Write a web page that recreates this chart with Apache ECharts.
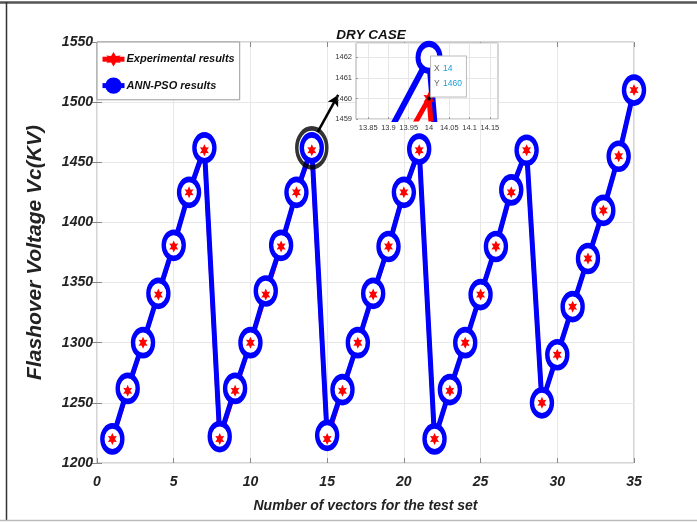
<!DOCTYPE html>
<html>
<head>
<meta charset="utf-8">
<script src="https://cdn.jsdelivr.net/npm/echarts@6/dist/echarts.min.js"></script>
<style>html,body{margin:0;padding:0;background:#fff;}#c{width:697px;height:522px;}</style>
</head>
<body>
<div id="c"></div>
<script>
// ---- data ----
const xs = [1,2,3,4,5,6,7,8,9,10,11,12,13,14,15,16,17,18,19,20,21,22,23,24,25,26,27,28,29,30,31,32,33,34,35];
const experimental = [1220,1260,1300,1340,1380,1425,1460,1220,1260,1300,1340,1380,1425,1460,1220,1260,1300,1340,1380,1425,1460,1220,1260,1300,1340,1380,1425,1460,1250,1290,1330,1370,1410,1455,1510];
const annPso = [1220,1262,1300,1341,1381,1425,1462,1222,1262,1300,1343,1381,1425,1462,1223,1261,1300,1341,1380,1425,1461,1220,1261,1300,1340,1380,1427,1460,1250,1290,1330,1370,1410,1455,1510];
const xTicks = [0,5,10,15,20,25,30,35];
const yTicks = [1200,1250,1300,1350,1400,1450,1500,1550];
const insetXTicks = [13.85,13.9,13.95,14,14.05,14.1,14.15];
const insetYTicks = [1459,1460,1461,1462];
const highlightIndex = 13;

const SANS = "'Liberation Sans',Arial,sans-serif";
const ELLIPSE = 'path://M0,-1A1,1,0,1,1,0,1A1,1,0,1,1,0,-1Z';
const STAR = 'path://M0,-10L3,-4.5L9,-5L5,0L9,5L3,4.5L0,10L-3,4.5L-9,5L-5,0L-9,-5L-3,-4.5Z';

const pairs = arr => arr.map((v, i) => [xs[i], v]);
const expData = pairs(experimental);
const annData = pairs(annPso);
const hl = [xs[highlightIndex], annPso[highlightIndex]];
const hlExp = [xs[highlightIndex], experimental[highlightIndex]];
const plain = v => String(+(+v).toFixed(2));

const chart = echarts.init(document.getElementById('c'), null, {renderer: 'canvas'});
const tickLabel = {fontFamily: SANS, fontStyle: 'italic', fontWeight: 'bold', fontSize: 14, color: '#222', formatter: plain};
const insetLabel = {fontFamily: SANS, fontSize: 7.5, color: '#333', formatter: plain, hideOverlap: false};

chart.setOption({
  animation: false,
  backgroundColor: '#fff',
  title: {
    text: 'DRY CASE', left: 366, top: 23, textAlign: 'center',
    textStyle: {fontFamily: SANS, fontStyle: 'italic', fontWeight: 'bold', fontSize: 13.5, color: '#111'}
  },
  legend: {
    orient: 'vertical', left: 97, top: 42,
    backgroundColor: '#fff', borderColor: '#999', borderWidth: 1,
    padding: [10, 5, 6, 3], itemGap: 11, itemWidth: 22, itemHeight: 18,
    textStyle: {fontFamily: SANS, fontStyle: 'italic', fontWeight: 'bold', fontSize: 11, color: '#111', padding: [0,0,0,-3]},
    data: [
      {name: 'Experimental results', lineStyle: {width: 5, color: '#ff0000'}},
      {name: 'ANN-PSO results', itemStyle: {color: '#0000ff'}, lineStyle: {width: 5, color: '#0000ff'}}
    ],
    z: 10
  },
  grid: [
    {left: 97, top: 42, right: 63, bottom: 59, show: true, borderColor: '#aaa', borderWidth: 1, backgroundColor: '#fff'},
    {left: 356, top: 43, width: 142, height: 76, show: true, borderColor: '#aaa', borderWidth: 1, backgroundColor: '#fff', z: 5}
  ],
  xAxis: [
    {type: 'value', gridIndex: 0, min: 0, max: 35, interval: 5,
     axisLine: {show: false}, axisTick: {show: true, inside: true, length: 5, lineStyle: {color: '#888'}},
     axisLabel: Object.assign({margin: 12}, tickLabel),
     splitLine: {show: true, lineStyle: {color: '#e8e8e8', width: 1}},
     name: 'Number of vectors for the test set', nameLocation: 'middle', nameGap: 36,
     nameTextStyle: {fontFamily: SANS, fontStyle: 'italic', fontWeight: 'bold', fontSize: 14, color: '#222'}},
    {type: 'value', gridIndex: 0, position: 'top', min: 0, max: 35, interval: 5,
     axisLine: {show: false}, axisTick: {show: true, inside: true, length: 5, lineStyle: {color: '#888'}},
     axisLabel: {show: false}, splitLine: {show: false}},
    {type: 'value', gridIndex: 1, min: 13.82, max: 14.17, z: 6,
     axisLine: {show: false},
     axisTick: {show: true, inside: true, length: 2, lineStyle: {color: '#999'}, customValues: insetXTicks},
     axisLabel: Object.assign({margin: 5, customValues: insetXTicks}, insetLabel),
     splitLine: {show: true, lineStyle: {color: '#e6e6e6'}}}
  ],
  yAxis: [
    {type: 'value', gridIndex: 0, min: 1200, max: 1550, interval: 50,
     axisLine: {show: false}, axisTick: {show: true, inside: true, length: 5, lineStyle: {color: '#888'}},
     axisLabel: Object.assign({margin: 4}, tickLabel),
     splitLine: {show: true, lineStyle: {color: '#e8e8e8', width: 1}},
     name: 'Flashover Voltage Vc(KV)', nameLocation: 'middle', nameGap: 51,
     nameTextStyle: {fontFamily: SANS, fontStyle: 'italic', fontWeight: 'bold', fontSize: 21, color: '#222'}},
    {type: 'value', gridIndex: 0, position: 'right', min: 1200, max: 1550, interval: 50,
     axisLine: {show: false}, axisTick: {show: true, inside: true, length: 5, lineStyle: {color: '#888'}},
     axisLabel: {show: false}, splitLine: {show: false}},
    {type: 'value', gridIndex: 1, min: 1459, max: 1462.7, interval: 1, z: 6,
     axisLine: {show: false},
     axisTick: {show: true, inside: true, length: 2, lineStyle: {color: '#999'}},
     axisLabel: Object.assign({margin: 4, showMaxLabel: false}, insetLabel),
     splitLine: {show: true, lineStyle: {color: '#e6e6e6'}}}
  ],
  series: [
    {name: 'Experimental results', type: 'line', xAxisIndex: 0, yAxisIndex: 0, data: expData,
     symbol: STAR, symbolSize: [14, 14], showSymbol: false,
     lineStyle: {color: '#ff0000', width: 4}, itemStyle: {color: '#ff0000'}, z: 2},
    {name: 'ANN-PSO results', type: 'line', xAxisIndex: 0, yAxisIndex: 0, data: annData,
     symbol: ELLIPSE, symbolSize: [20, 26], symbolKeepAspect: false, showAllSymbol: true,
     lineStyle: {color: '#0000ff', width: 5},
     itemStyle: {color: '#ffffff', borderColor: '#0000ff', borderWidth: 5}, z: 3},
    {name: 'Experimental markers', type: 'line', xAxisIndex: 0, yAxisIndex: 0, data: expData,
     symbol: STAR, symbolSize: [9, 12], symbolKeepAspect: false, showAllSymbol: true,
     lineStyle: {opacity: 0, width: 0}, itemStyle: {color: '#ff0000'}, z: 4},
    {name: 'highlight', type: 'scatter', xAxisIndex: 0, yAxisIndex: 0, data: [hl],
     symbol: ELLIPSE, symbolSize: [30, 39], symbolKeepAspect: false,
     itemStyle: {color: 'rgba(0,0,0,0)', borderColor: '#000', borderWidth: 4}, z: 4,
     markLine: {silent: true, symbol: ['none', 'arrow'], symbolSize: [9, 11],
       lineStyle: {color: '#000', width: 2.5, type: 'solid'}, label: {show: false},
       data: [[{coord: [hl[0] + 0.38, hl[1] + 13]}, {coord: [hl[0] + 1.72, hl[1] + 44]}]]}},
    {name: 'inset ANN', type: 'line', xAxisIndex: 2, yAxisIndex: 2, data: annData,
     symbol: ELLIPSE, symbolSize: [22, 27], symbolKeepAspect: false, showAllSymbol: true,
     lineStyle: {color: '#0000ff', width: 6},
     itemStyle: {color: '#ffffff', borderColor: '#0000ff', borderWidth: 5.5}, z: 7},
    {name: 'inset Exp', type: 'line', xAxisIndex: 2, yAxisIndex: 2, data: expData,
     symbol: STAR, symbolSize: [11, 14], symbolKeepAspect: false, showAllSymbol: true,
     lineStyle: {color: '#ff0000', width: 5}, itemStyle: {color: '#ff0000'}, z: 8,
     markPoint: {
       z: 20,
       symbol: 'circle', symbolSize: 4, itemStyle: {color: '#000'},
       data: [{coord: hlExp, value: hlExp[1]}],
       label: {show: true, position: [4, -40],
         formatter: p => '{k|X} {v|' + p.data.coord[0] + '}\n{k|Y} {v|' + p.data.coord[1] + '}',
         backgroundColor: '#fff', borderColor: '#bbb', borderWidth: 1,
         padding: [5, 4, 5, 3],
         rich: {k: {fontFamily: SANS, fontSize: 8.5, color: '#666', lineHeight: 15},
                v: {fontFamily: SANS, fontSize: 8.5, color: '#1aa0d8', lineHeight: 15}}}
     }}
  ],
  graphic: [
    {type: 'line', shape: {x1: 0, y1: 2.5, x2: 697, y2: 2.5}, style: {stroke: '#555', lineWidth: 2.5}, z: 100},
    {type: 'line', shape: {x1: 6.5, y1: 2, x2: 6.5, y2: 521}, style: {stroke: '#333', lineWidth: 1.5}, z: 100},
    {type: 'line', shape: {x1: 0, y1: 520.5, x2: 697, y2: 520.5}, style: {stroke: '#bbb', lineWidth: 1.5}, z: 100}
  ]
});
</script>
</body>
</html>
